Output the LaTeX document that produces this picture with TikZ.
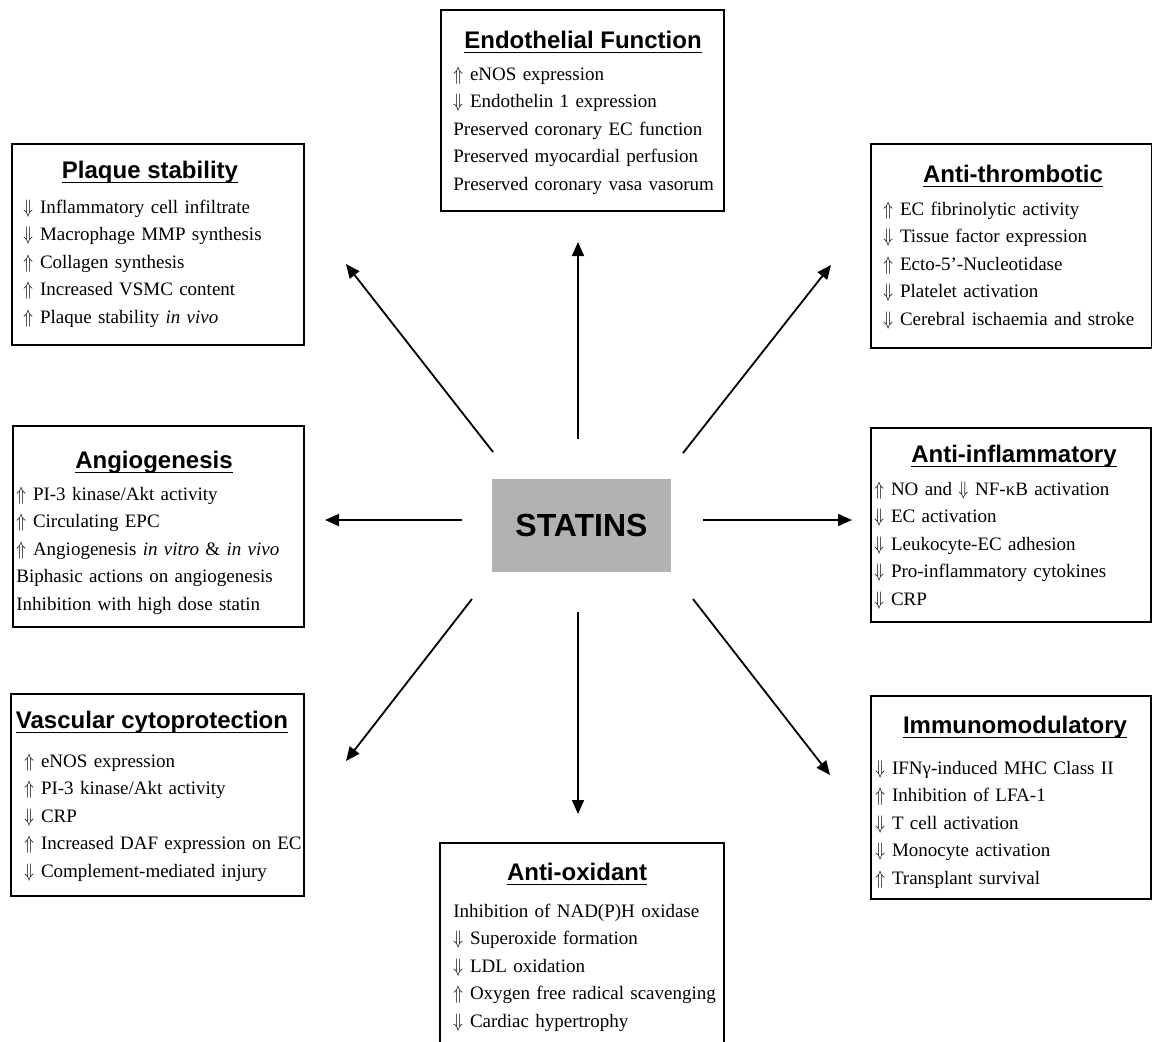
\documentclass[tikz,border=0pt]{standalone}
\usepackage{graphicx}
\usepackage{fontspec}
\setmainfont{Liberation Serif}
\newfontfamily\headfont{Liberation Sans}
\usetikzlibrary{arrows.meta}

\newcommand{\incr}{\scalebox{0.85}[1.08]{$\Uparrow$}\hspace{3.5pt}}
\newcommand{\decr}{\scalebox{0.85}[1.08]{$\Downarrow$}\hspace{3.5pt}}
\newcommand{\headline}[1]{\setbox0\hbox{#1}\rlap{\rule[-2.6pt]{\wd0}{0.8pt}}\box0}

\tikzset{
  panel/.style={draw, line width=0.9pt, anchor=north west, inner sep=0pt},
  heading/.style={anchor=base, inner sep=0pt, font=\headfont\bfseries\fontsize{12}{14}\selectfont},
  effects/.style={anchor=base west, inner sep=0pt, text width=150pt, align=left, font=\fontsize{9.5}{13.8}\selectfont},
  link/.style={line width=0.9pt, -{Triangle[length=7pt, width=6pt]}}
}

\begin{document}
\begin{tikzpicture}[x=0.5pt, y=-0.5pt]
\useasboundingbox (0,0) rectangle (1152,1041);

% centre
\node[fill=black!30, minimum width=89.5pt, minimum height=46.5pt, inner sep=0pt,
      font=\headfont\bfseries\fontsize{16}{18}\selectfont] (statins) at (581.5,525.5) {STATINS};

% boxes
\node[panel, minimum width=141.5pt, minimum height=100.5pt] (endo) at (440,9) {};
\node[heading] (endo-h) at (583,48) {\headline{Endothelial Function}};
\node[effects] (endo-t) at (453,80) {\incr eNOS expression\\
  \decr Endothelin 1 expression\\
  Preserved coronary EC function\\
  Preserved myocardial perfusion\\
  Preserved coronary vasa vasorum};

\node[panel, minimum width=146pt, minimum height=100.5pt] (plaque) at (11,143) {};
\node[heading] (plaque-h) at (150,178) {\headline{Plaque stability}};
\node[effects] (plaque-t) at (23,213) {\decr Inflammatory cell infiltrate\\
  \decr Macrophage MMP synthesis\\
  \incr Collagen synthesis\\
  \incr Increased VSMC content\\
  \incr Plaque stability \textit{in vivo}};

\node[panel, minimum width=140.5pt, minimum height=102pt] (thromb) at (870,143) {};
\node[heading] (thromb-h) at (1013,182) {\headline{Anti-thrombotic}};
\node[effects] (thromb-t) at (883,215) {\incr EC fibrinolytic activity\\
  \decr Tissue factor expression\\
  \incr Ecto-5’-Nucleotidase\\
  \decr Platelet activation\\
  \decr Cerebral ischaemia and stroke};

\node[panel, minimum width=145.5pt, minimum height=100.5pt] (angio) at (12,425) {};
\node[heading] (angio-h) at (154,468) {\headline{Angiogenesis}};
\node[effects] (angio-t) at (16,500) {\incr PI-3 kinase/Akt activity\\
  \incr Circulating EPC\\
  \incr Angiogenesis \textit{in vitro} \& \textit{in vivo}\\
  Biphasic actions on angiogenesis\\
  Inhibition with high dose statin};

\node[panel, minimum width=140pt, minimum height=97pt] (inflam) at (870,427) {};
\node[heading] (inflam-h) at (1014,462) {\headline{Anti-inflammatory}};
\node[effects] (inflam-t) at (874,495) {\incr NO and \decr NF-κB activation\\
  \decr EC activation\\
  \decr Leukocyte-EC adhesion\\
  \decr Pro-inflammatory cytokines\\
  \decr CRP};

\node[panel, minimum width=146.5pt, minimum height=101pt] (vasc) at (10,693) {};
\node[heading] (vasc-h) at (152,728) {\headline{Vascular cytoprotection}};
\node[effects] (vasc-t) at (24,767) {\incr eNOS expression\\
  \incr PI-3 kinase/Akt activity\\
  \decr CRP\\
  \incr Increased DAF expression on EC\\
  \decr Complement-mediated injury};

\node[panel, minimum width=140pt, minimum height=101.5pt] (immuno) at (870,695) {};
\node[heading] (immuno-h) at (1015,733) {\headline{Immunomodulatory}};
\node[effects] (immuno-t) at (875,774) {\decr IFNγ-induced MHC Class II\\
  \incr Inhibition of LFA-1\\
  \decr T cell activation\\
  \decr Monocyte activation\\
  \incr Transplant survival};

\node[panel, minimum width=142pt, minimum height=109pt] (oxid) at (439,842) {};
\node[heading] (oxid-h) at (577,880) {\headline{Anti-oxidant}};
\node[effects] (oxid-t) at (453,917) {Inhibition of NAD(P)H oxidase\\
  \decr Superoxide formation\\
  \decr LDL oxidation\\
  \incr Oxygen free radical scavenging\\
  \decr Cardiac hypertrophy};

% arrows
\coordinate (n0) at (578,439);  \coordinate (n1) at (578,242);
\coordinate (s0) at (578,612);  \coordinate (s1) at (578,814);
\coordinate (w0) at (462,520);  \coordinate (w1) at (325,520);
\coordinate (e0) at (703,520);  \coordinate (e1) at (852,520);
\coordinate (nw0) at (493,452); \coordinate (nw1) at (346,264);
\coordinate (ne0) at (683,453); \coordinate (ne1) at (831,265);
\coordinate (sw0) at (472,599); \coordinate (sw1) at (346,761);
\coordinate (se0) at (693,599); \coordinate (se1) at (830,775);

\draw[link] (n0) -- (n1);
\draw[link] (s0) -- (s1);
\draw[link] (w0) -- (w1);
\draw[link] (e0) -- (e1);
\draw[link] (nw0) -- (nw1);
\draw[link] (ne0) -- (ne1);
\draw[link] (sw0) -- (sw1);
\draw[link] (se0) -- (se1);
\end{tikzpicture}
\end{document}
